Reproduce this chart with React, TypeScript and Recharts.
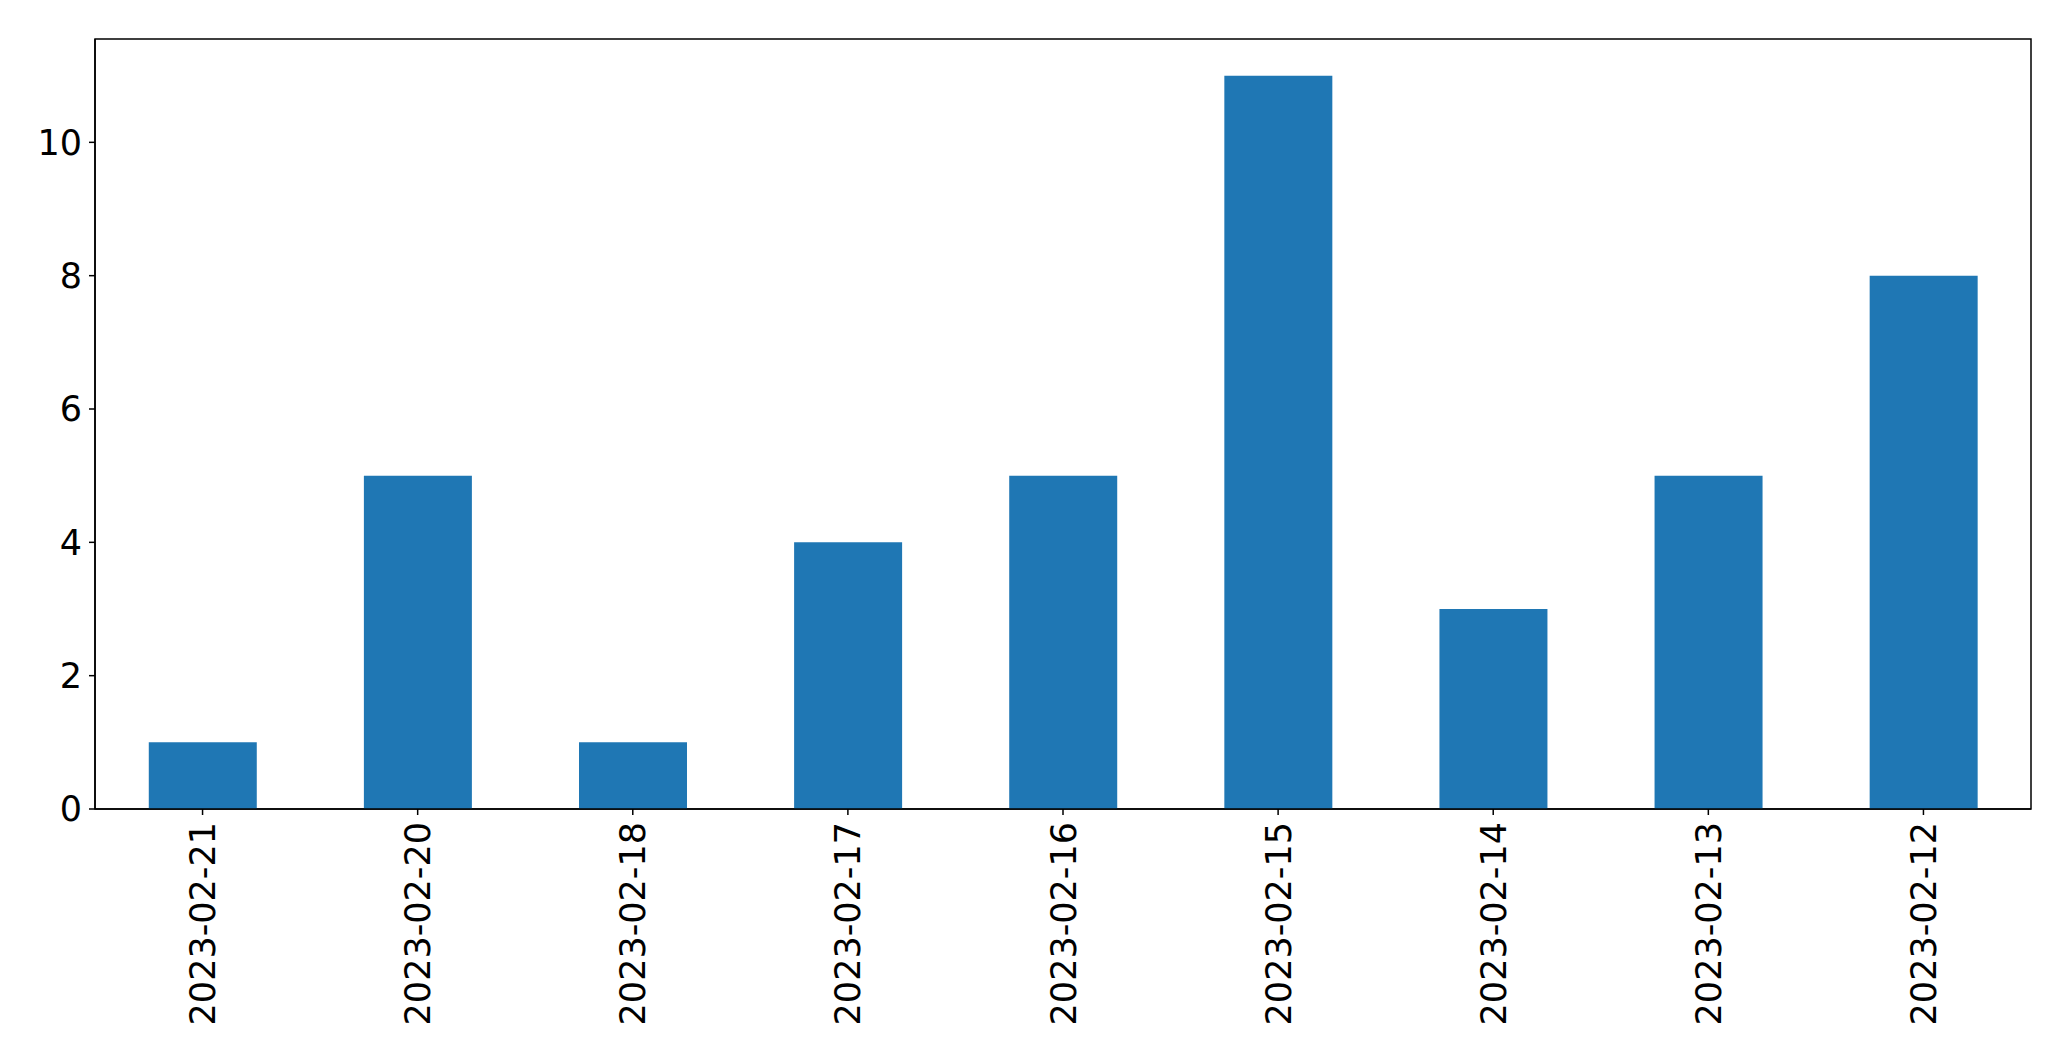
import React from "react";
import { BarChart, Bar, XAxis, YAxis, ReferenceArea } from "recharts";

const categories: string[] = [
  "2023-02-21",
  "2023-02-20",
  "2023-02-18",
  "2023-02-17",
  "2023-02-16",
  "2023-02-15",
  "2023-02-14",
  "2023-02-13",
  "2023-02-12",
];
const counts: number[] = [1, 5, 1, 4, 5, 11, 3, 5, 8];
const yTicks: number[] = [0, 2, 4, 6, 8, 10];
const yMax = 11.55;

const data = categories.map((c, i) => ({ date: c, count: counts[i] }));

const FONT = "'DejaVu Sans', sans-serif";

const XTick = (props: any) => {
  const { x, y, payload } = props;
  return (
    <g transform={`translate(${x},${y})`}>
      <text
        transform="rotate(-90)"
        x={-7}
        y={0}
        dy="0.36em"
        textAnchor="end"
        fontSize={35}
        fontFamily={FONT}
        fill="#000"
      >
        {payload.value}
      </text>
    </g>
  );
};

export default function App() {
  return (
    <div style={{ position: "absolute", left: 0, top: 0, background: "#fff" }}>
      <BarChart
        width={2071}
        height={1061}
        data={data}
        margin={{ top: 39, right: 40, left: 0, bottom: 0 }}
        barCategoryGap="25%"
      >
        <XAxis
          dataKey="date"
          height={252}
          interval={0}
          tickSize={6}
          tickMargin={0}
          tickLine={{ stroke: "#000", strokeWidth: 1.5 }}
          axisLine={{ stroke: "#000", strokeWidth: 1.5 }}
          tick={<XTick />}
        />
        <YAxis
          width={95}
          domain={[0, yMax]}
          ticks={yTicks}
          interval={0}
          tickSize={6}
          tickMargin={7}
          tickLine={{ stroke: "#000", strokeWidth: 1.5 }}
          axisLine={{ stroke: "#000", strokeWidth: 1.5 }}
          tick={{ fontSize: 35, fontFamily: FONT, fill: "#000" }}
        />
        <Bar dataKey="count" fill="#1f77b4" isAnimationActive={false} />
        <ReferenceArea
          y1={0}
          y2={yMax}
          fill="none"
          fillOpacity={0}
          stroke="#000"
          strokeWidth={1.5}
          ifOverflow="visible"
        />
      </BarChart>
    </div>
  );
}
